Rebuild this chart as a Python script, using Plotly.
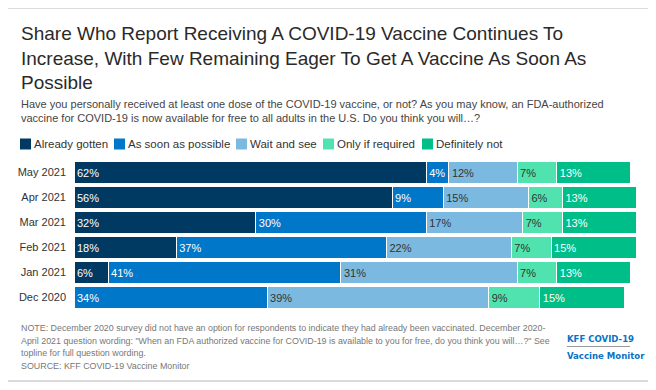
import plotly.graph_objects as go

W, H = 656, 390
OFF = 8  # page body margin of the browser

categories = ["May 2021", "Apr 2021", "Mar 2021", "Feb 2021", "Jan 2021", "Dec 2020"]
series_names = ["Already gotten", "As soon as possible", "Wait and see", "Only if required", "Definitely not"]
already_gotten = [62, 56, 32, 18, 6, None]
as_soon_as_possible = [4, 9, 30, 37, 41, 34]
wait_and_see = [12, 15, 17, 22, 31, 39]
only_if_required = [7, 6, 7, 7, 7, 9]
definitely_not = [13, 13, 13, 15, 13, 15]

colors = ["#003a63", "#0077c8", "#7cb9e1", "#50e3b0", "#00be87"]
text_colors = ["#ffffff", "#ffffff", "#333333", "#333333", "#ffffff"]

title = ("Share Who Report Receiving A COVID-19 Vaccine Continues To<br>"
         "Increase, With Few Remaining Eager To Get A Vaccine As Soon As<br>"
         "Possible")
subtitle = ("Have you personally received at least one dose of the COVID-19 vaccine, or not? As you may know, an FDA-authorized<br>"
            "vaccine for COVID-19 is now available for free to all adults in the U.S. Do you think you will…?")
note_lines = [
    "NOTE: December 2020 survey did not have an option for respondents to indicate they had already been vaccinated. December 2020-",
    "April 2021 question wording: \"When an FDA authorized vaccine for COVID-19 is available to you for free, do you think you will…?\" See",
    "topline for full question wording.",
    "SOURCE: KFF COVID-19 Vaccine Monitor",
]


def px(x):
    return (x - OFF) / W


def py(y):
    return 1 - (y - OFF) / H


FONT = "Liberation Sans, Arial, sans-serif"

fig = go.Figure()
all_series = [already_gotten, as_soon_as_possible, wait_and_see, only_if_required, definitely_not]
for name, vals, col, tcol in zip(series_names, all_series, colors, text_colors):
    fig.add_trace(go.Bar(
        name=name, y=categories, x=vals, orientation="h",
        marker=dict(color=col, line=dict(color="white", width=1)),
        text=[f"{v}%" if v is not None else "" for v in vals],
        textposition="inside", insidetextanchor="start",
        constraintext="none",
        textfont=dict(color=tcol, size=11, family=FONT),
        hoverinfo="skip", showlegend=False,
    ))

shapes = [dict(type="rect", xref="paper", yref="paper", x0=px(7), x1=px(650), y0=py(381), y1=py(8),
               line=dict(color="#d0d0d0", width=1.5), fillcolor="rgba(0,0,0,0)", layer="below")]
annotations = []

# legend
leg_sq = [20, 114, 236, 323, 422]
leg_y = 144
for name, col, x0 in zip(series_names, colors, leg_sq):
    shapes.append(dict(type="rect", xref="paper", yref="paper", x0=px(x0), x1=px(x0 + 11),
                       y0=py(leg_y + 5.5), y1=py(leg_y - 5.5), fillcolor=col, line=dict(width=0)))
    annotations.append(dict(text=name, xref="paper", yref="paper", x=px(x0 + 12), y=py(leg_y),
                            xanchor="left", yanchor="middle", showarrow=False,
                            font=dict(size=11.5, color="#333333", family=FONT)))

annotations.append(dict(text=title, xref="paper", yref="paper", x=px(19), y=py(20.5), xanchor="left", yanchor="top",
                        align="left", showarrow=False, font=dict(size=19, color="#2a2a2a", family=FONT)))
annotations.append(dict(text=subtitle, xref="paper", yref="paper", x=px(19), y=py(95.5), xanchor="left", yanchor="top",
                        align="left", showarrow=False, font=dict(size=11, color="#444444", family=FONT)))
for i, line in enumerate(note_lines):
    annotations.append(dict(text=line, xref="paper", yref="paper", x=px(19), y=py(328 + 12.6 * i),
                            xanchor="left", yanchor="middle", align="left", showarrow=False,
                            font=dict(size=8.9, color="#777777", family=FONT)))
LOGO_FONT = "DejaVu Sans Condensed, Liberation Sans Narrow, sans-serif"
annotations.append(dict(text="<b>KFF COVID-19</b>", xref="paper", yref="paper", x=px(565), y=py(338),
                        xanchor="left", yanchor="middle", showarrow=False,
                        font=dict(size=9.5, color="#0a72c4", family=LOGO_FONT)))
annotations.append(dict(text="<b>Vaccine Monitor</b>", xref="paper", yref="paper", x=px(565), y=py(355),
                        xanchor="left", yanchor="middle", showarrow=False,
                        font=dict(size=9.5, color="#0a72c4", family=LOGO_FONT)))
shapes.append(dict(type="line", xref="paper", yref="paper", x0=px(567), x1=px(630), y0=py(346.5), y1=py(346.5),
                   line=dict(color="#999999", width=1)))

fig.update_layout(
    width=W, height=H,
    margin=dict(l=0, r=0, t=0, b=0),
    barmode="stack", bargap=0.13,
    plot_bgcolor="white", paper_bgcolor="white",
    xaxis=dict(domain=[px(74), px(642)], range=[0, 100], visible=False, fixedrange=True),
    yaxis=dict(domain=[py(310), py(160)], categoryorder="array", categoryarray=categories,
               autorange="reversed", showgrid=False, zeroline=False, showline=False,
               ticks="", ticklabelstandoff=7,
               tickfont=dict(size=11, color="#333333", family=FONT)),
    shapes=shapes, annotations=annotations,
    font=dict(family=FONT),
)

fig.write_html("out.html")
